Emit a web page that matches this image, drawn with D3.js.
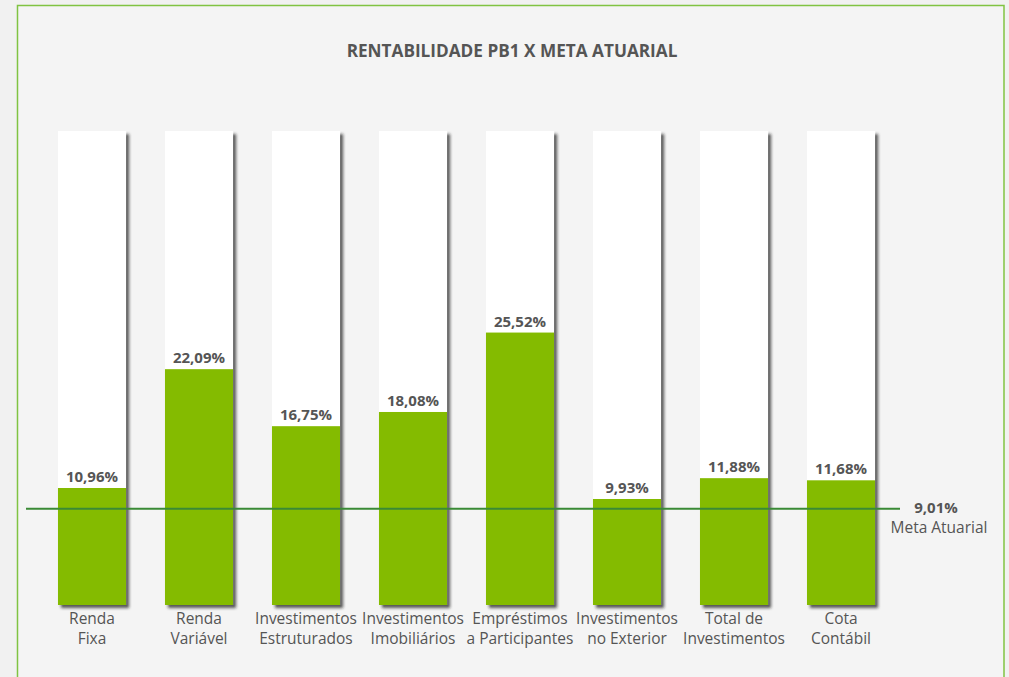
<!DOCTYPE html>
<html>
<head>
<meta charset="utf-8">
<script src="https://cdn.jsdelivr.net/npm/d3@7"></script>
<style>
  html, body { margin: 0; padding: 0; background: #f1f1f1; }
  svg { display: block; font-family: "Open Sans", "Noto Sans", sans-serif; }
</style>
</head>
<body>
<svg id="chart" width="1009" height="677"></svg>
<script>
// category names, split in two lines as printed under each bar
const categories = [
  ['Renda', 'Fixa'],
  ['Renda', 'Variável'],
  ['Investimentos', 'Estruturados'],
  ['Investimentos', 'Imobiliários'],
  ['Empréstimos', 'a Participantes'],
  ['Investimentos', 'no Exterior'],
  ['Total de', 'Investimentos'],
  ['Cota', 'Contábil']
];
const values = [10.96, 22.09, 16.75, 18.08, 25.52, 9.93, 11.88, 11.68];
const meta = 9.01;
const metaLabel = 'Meta Atuarial';
const title = 'RENTABILIDADE PB1 X META ATUARIAL';

const fmt = v => d3.format('.2f')(v).replace('.', ',') + '%';

const svg = d3.select('#chart');

const green = '#84bb00';
const textColor = '#555';

// panel
svg.append('rect')
  .attr('x', 17.5).attr('y', 5.5)
  .attr('width', 986.5).attr('height', 690)
  .attr('fill', '#f4f4f4')
  .attr('stroke', '#80c342')
  .attr('stroke-width', 1.5);

const defs = svg.append('defs');
const shadow = defs.append('filter')
  .attr('id', 'shadow')
  .attr('x', '-20%').attr('y', '-5%')
  .attr('width', '150%').attr('height', '115%');
shadow.append('feDropShadow')
  .attr('dx', 3).attr('dy', 3)
  .attr('stdDeviation', 1.4)
  .attr('flood-color', '#222')
  .attr('flood-opacity', 0.75);

svg.append('text')
  .attr('x', 512).attr('y', 57)
  .attr('text-anchor', 'middle')
  .attr('font-size', 17.2)
  .attr('font-weight', 'bold')
  .attr('fill', '#555')
  .text(title);

const x = d3.scaleBand()
  .domain(d3.range(values.length))
  .range([38.5, 894.5])
  .paddingInner(0.364)
  .paddingOuter(0.182);

const y = d3.scaleLinear()
  .domain([0, 44.4])
  .range([605, 131]);

const g = svg.append('g');

// white background columns with shadow
g.selectAll('rect.bg')
  .data(values)
  .join('rect')
  .attr('class', 'bg')
  .attr('x', (_, i) => x(i))
  .attr('y', y(y.domain()[1]))
  .attr('width', x.bandwidth())
  .attr('height', y(0) - y(y.domain()[1]))
  .attr('fill', '#fff')
  .attr('filter', 'url(#shadow)');

// green value bars
g.selectAll('rect.val')
  .data(values)
  .join('rect')
  .attr('class', 'val')
  .attr('x', (_, i) => x(i))
  .attr('y', d => y(d))
  .attr('width', x.bandwidth())
  .attr('height', d => y(0) - y(d))
  .attr('fill', green);

// value labels
g.selectAll('text.val')
  .data(values)
  .join('text')
  .attr('class', 'val')
  .attr('x', (_, i) => x(i) + x.bandwidth() / 2)
  .attr('y', d => y(d) - 6)
  .attr('text-anchor', 'middle')
  .attr('font-size', 15)
  .attr('font-weight', 'bold')
  .attr('fill', textColor)
  .text(d => fmt(d));

// category labels
const cat = g.selectAll('text.cat')
  .data(categories)
  .join('text')
  .attr('class', 'cat')
  .attr('text-anchor', 'middle')
  .attr('font-size', 15.5)
  .attr('fill', textColor);
cat.selectAll('tspan')
  .data((d, i) => d.map(t => ({ t, i })))
  .join('tspan')
  .attr('x', d => x(d.i) + x.bandwidth() / 2)
  .attr('y', (_, j) => y(0) + 19 + j * 20)
  .text(d => d.t);

// meta atuarial line
svg.append('line')
  .attr('x1', 26).attr('x2', 900)
  .attr('y1', y(meta)).attr('y2', y(meta))
  .attr('stroke', '#3a8a35')
  .attr('stroke-width', 2);

svg.append('text')
  .attr('x', 936).attr('y', y(meta) + 4)
  .attr('text-anchor', 'middle')
  .attr('font-size', 15)
  .attr('font-weight', 'bold')
  .attr('fill', textColor)
  .text(fmt(meta));

svg.append('text')
  .attr('x', 939).attr('y', y(meta) + 24)
  .attr('text-anchor', 'middle')
  .attr('font-size', 15.5)
  .attr('fill', textColor)
  .text(metaLabel);
</script>
</body>
</html>
